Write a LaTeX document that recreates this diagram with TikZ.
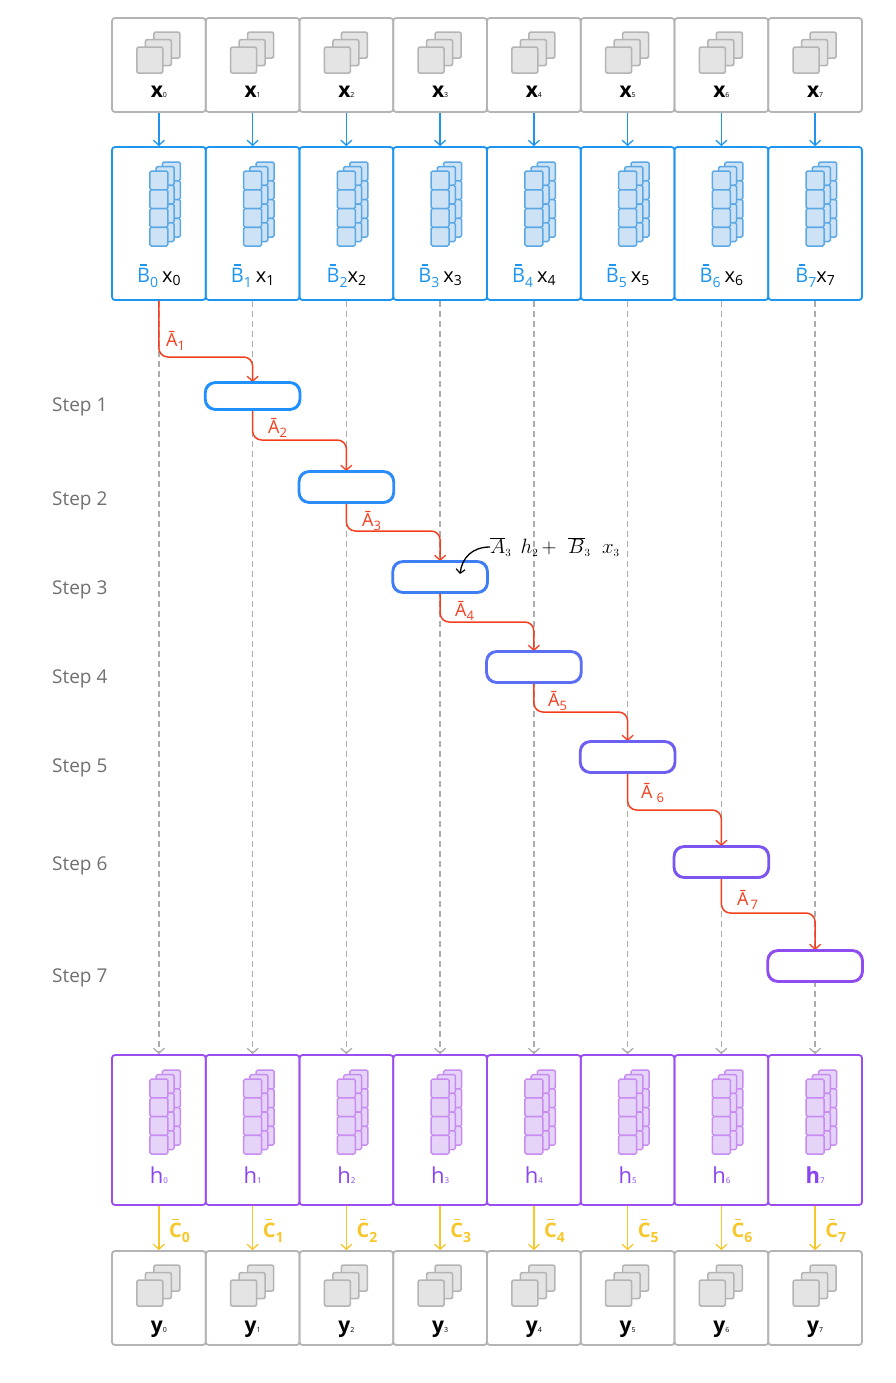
\documentclass[tikz,border=0pt]{standalone}
\usepackage{fontspec}
\setmainfont{Open Sans}
\usetikzlibrary{arrows.meta,calc}
\definecolor{gline}{HTML}{B4B4B4}
\definecolor{gfill}{HTML}{E4E4E4}
\definecolor{gdashc}{HTML}{ACACAC}
\definecolor{bline}{HTML}{1E96F0}
\definecolor{bicon}{HTML}{5BA8E5}
\definecolor{bfill}{HTML}{CDE2F4}
\definecolor{pline}{HTML}{9B4DF2}
\definecolor{picon}{HTML}{C78BF2}
\definecolor{pfill}{HTML}{E5D4F7}
\definecolor{ptext}{HTML}{8B45F0}
\definecolor{rline}{HTML}{F43F1F}
\definecolor{yline}{HTML}{F7C72A}
\definecolor{steptext}{HTML}{707070}
\definecolor{scA}{HTML}{1E90FF}
\definecolor{scB}{HTML}{2A8CF8}
\definecolor{scC}{HTML}{3D7EF5}
\definecolor{scD}{HTML}{5B6FF5}
\definecolor{scE}{HTML}{6C5FF2}
\definecolor{scF}{HTML}{7A55F0}
\definecolor{scG}{HTML}{8F4CF0}
\newcommand\ovb[1]{\begingroup\setbox0\hbox{#1}\rlap{\hbox to \wd0{\hss\raisebox{\dimexpr\ht0+2.2pt\relax}{\rule{0.5\wd0}{1.7pt}}\hss}}\box0\endgroup}
\newcommand\subs[3]{\raisebox{#1}{\fontsize{#2}{#2}\selectfont #3}}
\tikzset{
  cellbox/.style={rounded corners=3pt, minimum width=93.75pt, inner sep=0pt, line width=1.8pt},
  xbox/.style={cellbox, draw=gline, minimum height=94pt},
  bbox/.style={cellbox, draw=bline, minimum height=153pt},
  hbox/.style={cellbox, draw=pline, minimum height=150pt},
  ybox/.style={cellbox, draw=gline, minimum height=94pt},
  stepbox/.style={draw, fill=white, rounded corners=10pt, minimum width=93.75pt, inner sep=0pt, line width=1.8pt},
  tip/.style={-{Straight Barb[length=5pt,width=11pt,line width=1.3pt]}},
  barrow/.style={tip, draw=bline, line width=1.4pt},
  yarrow/.style={tip, draw=yline, line width=1.4pt},
  gdash/.style={tip, draw=gdashc, line width=1.4pt, dash pattern=on 6pt off 4pt},
  aline/.style={tip, draw=rline, line width=1.5pt, rounded corners=9pt},
  steplbl/.style={anchor=base west, inner sep=0pt, text=steptext, font=\fontsize{19}{19}\selectfont},
  alabel/.style={anchor=base west, inner sep=0pt, text=rline, font=\fontsize{18}{18}\selectfont},
  clabel/.style={anchor=base west, inner sep=0pt, text=yline, font=\fontsize{20}{20}\selectfont\bfseries},
  boxlbl/.style={anchor=base, inner sep=0pt},
  grayicon/.pic={
    \foreach \dx/\dy in {17/-15, 8.5/-7.5, 0/0}
      \draw[draw=gline, fill=gfill, line width=1.6pt, rounded corners=2pt] (-22+\dx,30+\dy) rectangle ++(26,26);
  },
  colicon/.pic={
    \foreach \dx/\dy in {12.5/-9, 6.25/-4.5, 0/0}
      \foreach \j in {0,...,3}
        \draw[pic actions, line width=1.4pt, rounded corners=1.5pt] (-9+\dx,25+\dy+18.75*\j) rectangle ++(18,18.75);
  }
}
\begin{document}
\begin{tikzpicture}[x=1pt,y=-1pt]
\useasboundingbox[fill=white] (0,0) rectangle (895,1383);
% column boxes
\foreach \k in {0,...,7}{
  \pgfmathsetmacro\cx{158.875+93.75*\k}
  \node[xbox] (x\k) at (\cx,65) {};
  \node[bbox] (b\k) at (\cx,223.5) {};
  \node[hbox] (h\k) at (\cx,1130) {};
  \node[ybox] (y\k) at (\cx,1298) {};
  \pic at (x\k.north) {grayicon};
  \pic at (y\k.north) {grayicon};
  \pic[draw=bicon, fill=bfill] at (b\k.north) {colicon};
  \pic[draw=picon, fill=pfill] at (h\k.north) {colicon};
  \node[boxlbl, font=\fontsize{21}{21}\selectfont\bfseries] (xl\k) at (\cx,98) {x\subs{0pt}{7}{\mdseries\k}};
  \node[boxlbl, font=\fontsize{21}{21}\selectfont\bfseries] (yl\k) at (\cx,1332) {y\subs{0pt}{7}{\mdseries\k}};
  \node[clabel] (cl\k) at (\cx+10,1237) {\ovb{C}\subs{-5pt}{14}{\k}};
  \draw[barrow] (x\k.south) -- (b\k.north);
  \draw[yarrow] (h\k.south) -- (y\k.north);
  \draw[gdash] (b\k.south) -- (h\k.north);
}
% h labels
\foreach \k/\wt in {0/\mdseries,1/\mdseries,2/\mdseries,3/\mdseries,4/\mdseries,5/\mdseries,6/\mdseries,7/\bfseries}{
  \pgfmathsetmacro\cx{158.875+93.75*\k}
  \node[boxlbl, text=ptext, font=\fontsize{22}{22}\selectfont\wt] (hl\k) at (\cx,1183) {h\subs{0pt}{8}{\mdseries\k}};
}
% B labels
\foreach \k/\sp in {0/4pt,1/4pt,2/0pt,3/4pt,4/4pt,5/4pt,6/4pt,7/0pt}{
  \pgfmathsetmacro\cx{158.875+93.75*\k}
  \node[boxlbl, font=\fontsize{20}{20}\selectfont] (bl\k) at (\cx,282)
    {\textcolor{bline}{\ovb{B}\subs{-5pt}{14}{\k}}\hspace{\sp}x\subs{-3pt}{14}{\k}};
}
% step boxes
\foreach \k/\yc/\hh/\col in {1/396/26/scA, 2/487/30/scB, 3/577/30/scC, 4/667/30/scD, 5/757/30/scE, 6/862/30/scF, 7/966/30/scG}{
  \pgfmathsetmacro\cx{158.875+93.75*\k}
  \node[stepbox, draw=\col, minimum height=\hh pt] (s\k) at (\cx,\yc) {};
}
% step labels
\foreach \k/\yb in {1/411, 2/505, 3/594, 4/683, 5/772, 6/870, 7/982}{
  \node[steplbl] (t\k) at (52,\yb) {Step \k};
}
% red connectors
\draw[aline] (b0.south) |- (s1.north |- 0,357) -- (s1.north);
\draw[aline] (s1.south) |- (s2.north |- 0,440) -- (s2.north);
\draw[aline] (s2.south) |- (s3.north |- 0,531) -- (s3.north);
\draw[aline] (s3.south) |- (s4.north |- 0,622) -- (s4.north);
\draw[aline] (s4.south) |- (s5.north |- 0,712) -- (s5.north);
\draw[aline] (s5.south) |- (s6.north |- 0,810) -- (s6.north);
\draw[aline] (s6.south) |- (s7.north |- 0,913) -- (s7.north);
% redraw step boxes on top of lines
\foreach \k/\col in {1/scA,2/scB,3/scC,4/scD,5/scE,6/scF,7/scG}{
  \draw[draw=\col, line width=1.8pt, rounded corners=10pt] (s\k.north west) rectangle (s\k.south east);
}
% A labels
\node[alabel] (a1) at (166,346) {Ā\subs{-4pt}{13}{1}};
\node[alabel] (a2) at (268,433) {Ā\subs{-4pt}{13}{2}};
\node[alabel] (a3) at (362,526) {Ā\subs{-4pt}{13}{3}};
\node[alabel] (a4) at (455,616) {Ā\subs{-4pt}{13}{4}};
\node[alabel] (a5) at (548,706) {Ā\subs{-4pt}{13}{5}};
\node[alabel] (a6) at (641,798) {Ā\hspace{4pt}\subs{-4pt}{13}{6}};
\node[alabel] (a7) at (737,905) {Ā\hspace{2pt}\subs{-4pt}{13}{7}};
% annotation
\node[anchor=west, inner sep=0pt, font=\fontsize{22}{22}\selectfont] (ann) at (490,547)
  {$\overline{A}_{\scriptscriptstyle 3}\;\, h_{\scriptscriptstyle 2}\,{+}\;\;\overline{B}_{\scriptscriptstyle 3}\;\; x_{\scriptscriptstyle 3}$};
\coordinate (annend) at (460,574);
\draw[line width=1.3pt, -{Straight Barb[length=4pt,width=9pt,line width=1.2pt]}] (ann.west) .. controls (472,547) and (462,558) .. (annend);
\end{tikzpicture}
\end{document}
